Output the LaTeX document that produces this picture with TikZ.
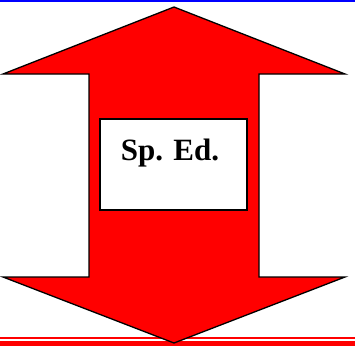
\documentclass[tikz,border=0pt]{standalone}
\usepackage{fontspec}
\setmainfont{Liberation Serif}
\begin{document}
\begin{tikzpicture}[x=1pt,y=-1pt,
  arrowshape/.style={fill=red,draw=black,line width=1.3pt,line join=miter},
  labelbox/.style={fill=white,draw=black,line width=1.3pt},
  rulebar/.style={fill=red,draw=none}]
\useasboundingbox (0,0) rectangle (355,346);
% top blue rule
\fill[blue] (0,0) rectangle (355,2.3);
% bottom red rules
\fill[rulebar] (0,337) rectangle (355,339.3);
\fill[rulebar] (0,341) rectangle (355,346);
% double-headed arrow
\draw[arrowshape] (174,7) -- (345,74) -- (259,74) -- (259,277) -- (345,277)
  -- (174,343) -- (3,277) -- (89,277) -- (89,74) -- (3,74) -- cycle;
% label box
\draw[labelbox] (100,119) rectangle (247,210);
\node[font=\fontsize{31}{31}\selectfont\bfseries, anchor=base] (lbl) at (170,160) {Sp. Ed.};
\end{tikzpicture}
\end{document}
